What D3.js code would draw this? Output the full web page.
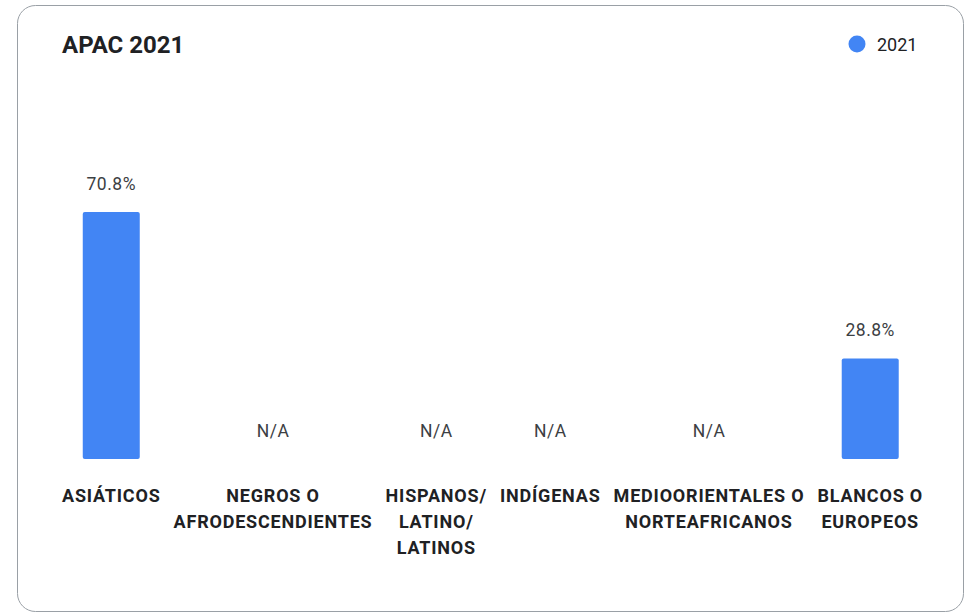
<!DOCTYPE html>
<html>
<head>
<meta charset="utf-8">
<script src="https://cdn.jsdelivr.net/npm/d3@7/dist/d3.min.js"></script>
<style>
  body { margin: 0; background: #fff; }
  text { font-family: Roboto, "Noto Sans", sans-serif; }
  .cat { font-size: 18px; font-weight: 700; letter-spacing: 0.8px; fill: #202124; }
</style>
</head>
<body>
<div id="chart"></div>
<script>
// Data
var chartTitle = "APAC 2021";
var seriesName = "2021";
var categories = ["ASIÁTICOS", "NEGROS O AFRODESCENDIENTES", "HISPANOS/ LATINO/ LATINOS",
                  "INDÍGENAS", "MEDIOORIENTALES O NORTEAFRICANOS", "BLANCOS O EUROPEOS"];
var labelLines = [["ASIÁTICOS"], ["NEGROS O", "AFRODESCENDIENTES"], ["HISPANOS/", "LATINO/", "LATINOS"],
                  ["INDÍGENAS"], ["MEDIOORIENTALES O", "NORTEAFRICANOS"], ["BLANCOS O", "EUROPEOS"]];
var values2021 = [70.8, null, null, null, null, 28.8];

var width = 972, height = 613;
var left = 62, right = 923;
var baseY = 459;
var barWidth = 57;
var blue = "#4285f4";

var svg = d3.select("#chart")
  .append("svg")
  .attr("width", width)
  .attr("height", height);

// card
svg.append("rect")
  .attr("x", 17.5).attr("y", 5.5)
  .attr("width", 946).attr("height", 606)
  .attr("rx", 18)
  .attr("fill", "#fff")
  .attr("stroke", "#9aa0a6");

svg.append("text")
  .attr("x", left).attr("y", 53)
  .attr("font-size", 24).attr("font-weight", 700)
  .attr("fill", "#202124")
  .text(chartTitle);

// legend
var legend = svg.append("g").attr("transform", "translate(857,44)");
legend.append("circle").attr("r", 8.5).attr("fill", blue);
legend.append("text")
  .attr("x", 20).attr("y", 6.5)
  .attr("font-size", 18).attr("fill", "#202124")
  .text(seriesName);

// category labels, measured so the columns can be spread across the card
var labels = svg.append("g").attr("class", "labels")
  .selectAll("text")
  .data(categories)
  .enter()
  .append("text")
  .attr("class", "cat")
  .attr("text-anchor", "middle");

labels.selectAll("tspan")
  .data(function(d, i) { return labelLines[i]; })
  .enter()
  .append("tspan")
  .attr("x", 0)
  .attr("y", function(d, j) { return 502 + j * 26; })
  .text(function(d) { return d; });

var colWidths = [];
labels.each(function() { colWidths.push(this.getBBox().width); });
var gap = (right - left - d3.sum(colWidths)) / (categories.length - 1);
var centers = [];
var pos = left;
colWidths.forEach(function(w) {
  centers.push(pos + w / 2);
  pos += w + gap;
});

var x = d3.scaleOrdinal().domain(categories).range(centers);
var y = d3.scaleLinear().domain([0, 100]).range([baseY, 110]);

labels.attr("transform", function(d) { return "translate(" + x(d) + ",0)"; });

var data = categories.map(function(c, i) { return {category: c, value: values2021[i]}; });

svg.append("g").selectAll("rect")
  .data(data.filter(function(d) { return d.value != null; }))
  .enter()
  .append("rect")
  .attr("x", function(d) { return x(d.category) - barWidth / 2; })
  .attr("y", function(d) { return y(d.value); })
  .attr("width", barWidth)
  .attr("height", function(d) { return y(0) - y(d.value); })
  .attr("rx", 2)
  .attr("fill", blue);

svg.append("g").selectAll("text")
  .data(data)
  .enter()
  .append("text")
  .attr("x", function(d) { return x(d.category); })
  .attr("y", function(d) { return y(d.value == null ? 0 : d.value) - 22; })
  .attr("text-anchor", "middle")
  .attr("font-size", 17.5)
  .attr("letter-spacing", 0.5)
  .attr("fill", "#3c4043")
  .text(function(d) { return d.value == null ? "N/A" : d.value.toFixed(1) + "%"; });
</script>
</body>
</html>
